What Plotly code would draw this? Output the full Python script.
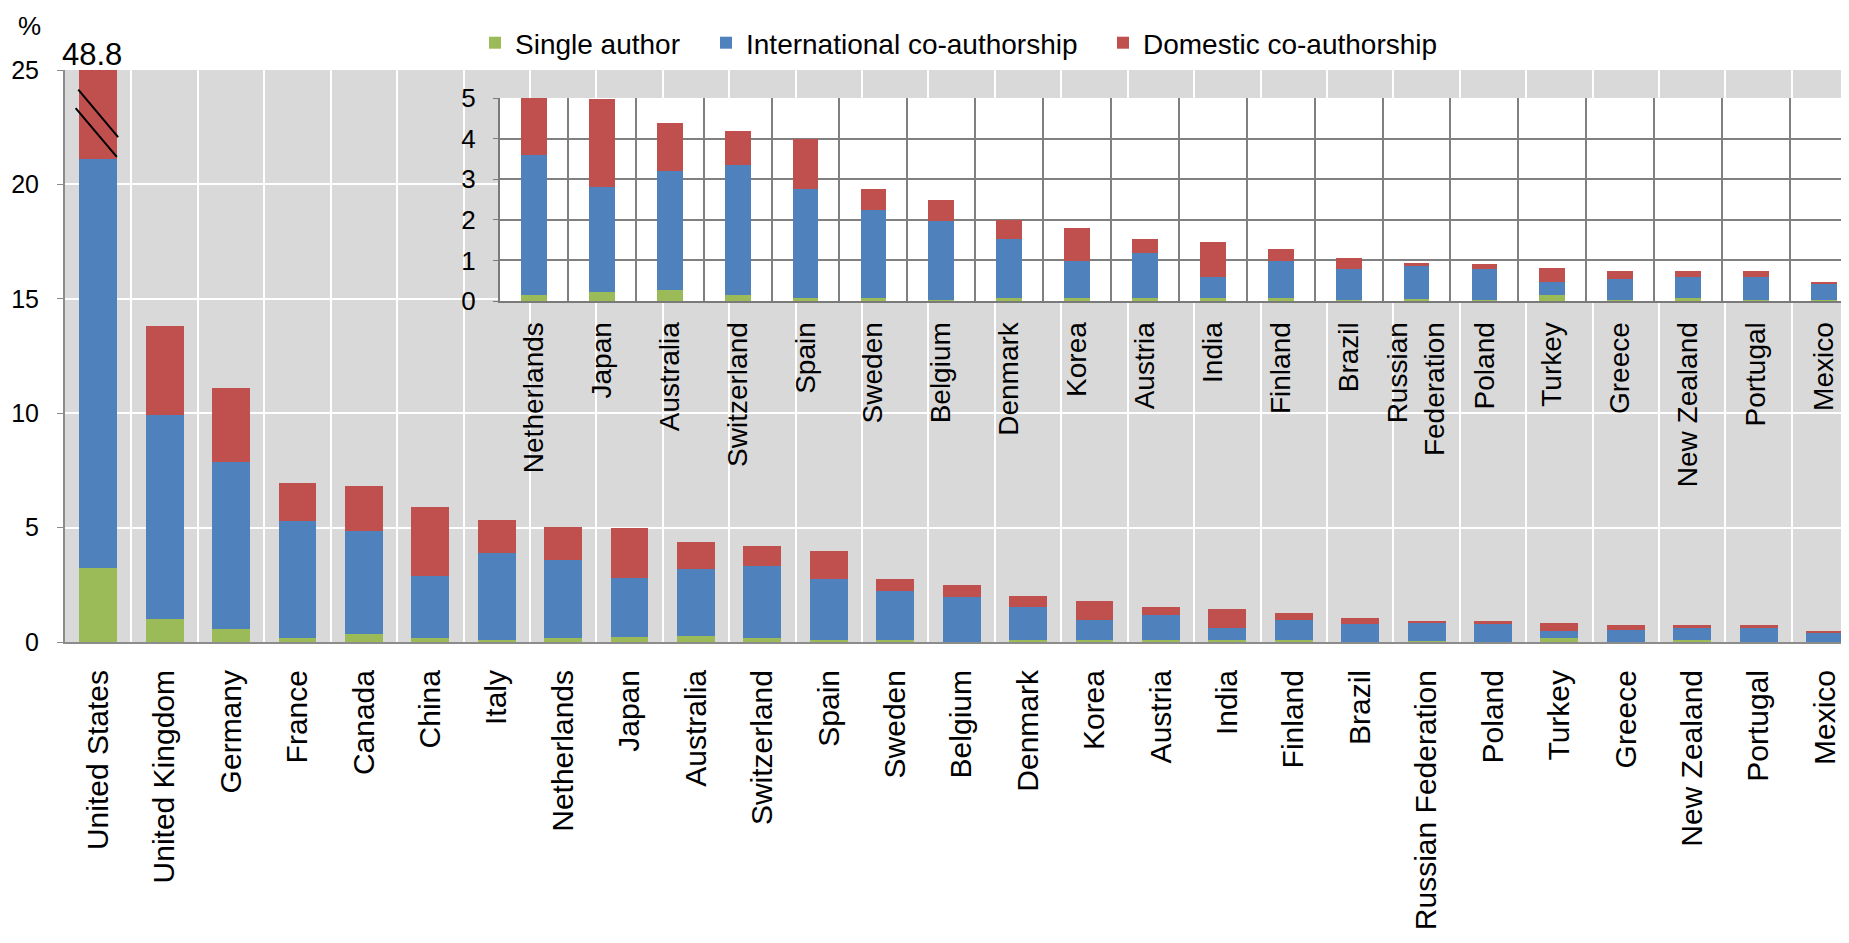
import plotly.graph_objects as go

countries = ["United States", "United Kingdom", "Germany", "France", "Canada", "China", "Italy",
             "Netherlands", "Japan", "Australia", "Switzerland", "Spain", "Sweden", "Belgium",
             "Denmark", "Korea", "Austria", "India", "Finland", "Brazil", "Russian Federation",
             "Poland", "Turkey", "Greece", "New Zealand", "Portugal", "Mexico"]

single_author = [3.25, 1.02, 0.55, 0.19, 0.34, 0.19, 0.10, 0.16, 0.22, 0.28, 0.16, 0.08, 0.08, 0.02,
                 0.08, 0.08, 0.08, 0.08, 0.08, 0.02, 0.06, 0.02, 0.16, 0.02, 0.08, 0.02, 0.02]
international = [17.85, 8.91, 7.30, 5.11, 4.52, 2.69, 3.81, 3.44, 2.58, 2.92, 3.18, 2.67, 2.16, 1.95,
                 1.44, 0.90, 1.11, 0.52, 0.90, 0.78, 0.80, 0.78, 0.31, 0.51, 0.52, 0.58, 0.39]
domestic = [27.70, 3.87, 3.27, 1.66, 1.97, 3.00, 1.42, 1.42, 2.17, 1.18, 0.84, 1.23, 0.52, 0.53,
            0.47, 0.81, 0.33, 0.85, 0.29, 0.27, 0.07, 0.12, 0.34, 0.21, 0.14, 0.14, 0.07]
us_total_label = "48.8"

inset_start = 7  # inset shows Netherlands .. Mexico
inset_tick_labels = ["Netherlands", "Japan", "Australia", "Switzerland", "Spain", "Sweden", "Belgium",
                     "Denmark", "Korea", "Austria", "India", "Finland", "Brazil", "Russian<br>Federation",
                     "Poland", "Turkey", "Greece", "New Zealand", "Portugal", "Mexico"]

series_names = ["Single author", "International co-authorship", "Domestic co-authorship"]
series_values = [single_author, international, domestic]
series_colors = ["#9BBB59", "#4F81BD", "#C0504D"]

# the page body has an 8px margin: work in window pixels, convert to figure paper coords
OFF = 8
WIN_W, WIN_H = 1849, 943
W, H = WIN_W - OFF, WIN_H - OFF
FONT = "Liberation Sans, Arial, sans-serif"

px = lambda v: (v - OFF) / W
py = lambda v: 1 - (v - OFF) / H

legend_ids = ["legend", "legend2", "legend3"]
legend_x = [475, 706, 1103]

fig = go.Figure()
for name, vals, col, lid in zip(series_names, series_values, series_colors, legend_ids):
    fig.add_trace(go.Bar(x=countries, y=vals, name=name, legend=lid,
                         marker=dict(color=col, line=dict(width=0)),
                         width=0.57, xaxis="x", yaxis="y"))
inset_countries = countries[inset_start:]
for name, vals, col in zip(series_names, series_values, series_colors):
    fig.add_trace(go.Bar(x=inset_countries, y=vals[inset_start:], name=name, showlegend=False,
                         marker=dict(color=col, line=dict(width=0)), width=0.38, xaxis="x2", yaxis="y2"))

legend_common = dict(orientation="h", xanchor="left", y=py(18), yanchor="top",
                     font=dict(family=FONT, size=28, color="#000000"), bgcolor="rgba(0,0,0,0)",
                     itemwidth=30)

fig.update_layout(
    width=W, height=H, autosize=False,
    margin=dict(l=0, r=0, t=0, b=0, pad=0, autoexpand=False),
    paper_bgcolor="white", plot_bgcolor="white",
    barmode="stack",
    font=dict(family=FONT, color="#000000"),
    legend=dict(x=px(legend_x[0]), **legend_common),
    legend2=dict(x=px(legend_x[1]), **legend_common),
    legend3=dict(x=px(legend_x[2]), **legend_common),
    xaxis=dict(domain=[px(65), 1], range=[-0.5, 26.36], tickson="boundaries", showgrid=True,
               gridcolor="white", gridwidth=2, showline=True, linecolor="#8C8C8C", linewidth=2,
               tickangle=-90, ticks="", tickfont=dict(size=30, family=FONT), ticklabelstandoff=14,
               fixedrange=True),
    yaxis=dict(domain=[py(642), py(70)], range=[0, 25], tickvals=[0, 5, 10, 15, 20, 25],
               showgrid=True, gridcolor="white", gridwidth=2, zeroline=False, showline=True,
               linecolor="#8C8C8C", linewidth=2, ticks="outside", ticklen=6, tickcolor="#8C8C8C",
               tickfont=dict(size=25, family=FONT), ticklabelstandoff=13),
    xaxis2=dict(domain=[px(500), 1], range=[-0.5, 19.37], anchor="y2", tickson="boundaries",
                showgrid=True, gridcolor="#808080", gridwidth=2, showline=True, linecolor="#7A7A7A",
                linewidth=2, tickangle=-90, ticks="", tickfont=dict(size=28, family=FONT),
                tickmode="array", tickvals=inset_countries, ticktext=inset_tick_labels,
                ticklabelstandoff=8),
    yaxis2=dict(domain=[py(301), py(98)], range=[0, 5], anchor="x2", tickvals=[0, 1, 2, 3, 4, 5],
                showgrid=True, gridcolor="#808080", gridwidth=2, zeroline=False, showline=True,
                linecolor="#7A7A7A", linewidth=2, ticks="outside", ticklen=5, tickcolor="#7A7A7A",
                tickfont=dict(size=26, family=FONT), ticklabelstandoff=12),
)

# grey background of the main plotting area (the inset keeps the white plot background)
fig.add_shape(type="rect", xref="x domain", yref="y domain", x0=0, x1=1, y0=0, y1=1,
              fillcolor="#D9D9D9", line=dict(width=0), layer="below")
# axis-break marks on the United States bar
fig.add_shape(type="line", xref="x", yref="y", x0=-0.30, x1=0.30, y0=24.14, y1=22.07,
              line=dict(color="black", width=2))
fig.add_shape(type="line", xref="x", yref="y", x0=-0.34, x1=0.28, y0=23.33, y1=21.2,
              line=dict(color="black", width=2))

fig.add_annotation(x=-0.1, y=25, xref="x", yref="y", text=us_total_label, showarrow=False,
                   yanchor="bottom", yshift=-4, font=dict(size=31, family=FONT))
fig.add_annotation(x=px(29), y=py(26), xref="paper", yref="paper", text="%", showarrow=False,
                   xanchor="center", yanchor="middle", font=dict(size=26, family=FONT))

fig.write_html("out.html")
